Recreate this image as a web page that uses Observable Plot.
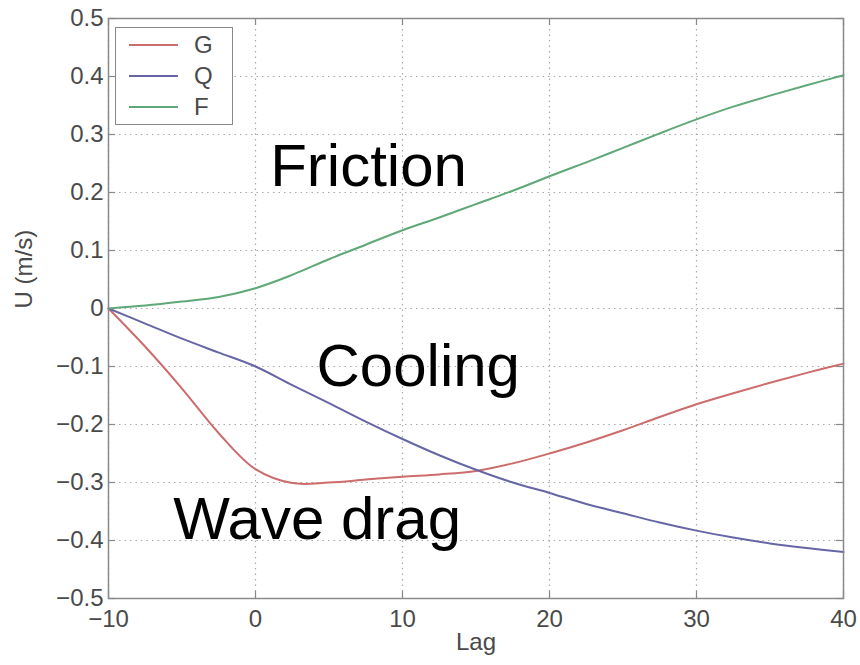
<!DOCTYPE html>
<html>
<head>
<meta charset="utf-8">
<script src="https://cdn.jsdelivr.net/npm/d3@7"></script>
<script src="https://cdn.jsdelivr.net/npm/@observablehq/plot@0.6"></script>
<style>
  body { margin: 0; background: #fff; }
  #wrap { position: relative; width: 860px; height: 665px; font-family: "Liberation Sans", Arial, sans-serif; }
  #legend { position: absolute; left: 115px; top: 27px; width: 118px; height: 98px; border: 1.5px solid #888; background: #fff; box-sizing: border-box; }
  #legend .row { position: absolute; left: 0; height: 24px; width: 100%; }
  #legend .sw { position: absolute; left: 13px; top: 11px; width: 49px; height: 2px; }
  #legend .lb { position: absolute; left: 78px; top: 0px; font-size: 24px; color: #4a4a4a; line-height: 24px; }
</style>
</head>
<body>
<div id="wrap"></div>
<script>
// ---- data ----
const lag = [-10, -7.5, -5, -2.5, 0, 2.5, 5, 7.5, 10, 12.5, 15, 17.5, 20, 22.5, 25, 27.5, 30, 32.5, 35, 37.5, 40];
const G = [0, -0.066, -0.138, -0.215, -0.277, -0.301, -0.300, -0.295, -0.290, -0.286, -0.280, -0.267, -0.250, -0.231, -0.210, -0.187, -0.165, -0.146, -0.128, -0.111, -0.095];
const Q = [0, -0.026, -0.052, -0.076, -0.100, -0.132, -0.163, -0.195, -0.225, -0.253, -0.278, -0.300, -0.318, -0.337, -0.353, -0.369, -0.383, -0.395, -0.405, -0.413, -0.420];
const F = [0, 0.005, 0.012, 0.020, 0.035, 0.058, 0.085, 0.110, 0.135, 0.157, 0.180, 0.203, 0.228, 0.252, 0.277, 0.302, 0.326, 0.348, 0.367, 0.385, 0.402];
const seriesNames = ["G", "Q", "F"];
const seriesColors = ["#cc6c6c", "#6666a6", "#5fa878"];
const xTicks = [-10, 0, 10, 20, 30, 40];
const yTicks = [-0.5, -0.4, -0.3, -0.2, -0.1, 0, 0.1, 0.2, 0.3, 0.4, 0.5];
const annotations = [
  {text: "Friction", x: 1.0, y: 0.212},
  {text: "Cooling", x: 4.15, y: -0.133},
  {text: "Wave drag", x: -5.6, y: -0.397}
];
const xLabel = "Lag";
const yLabel = "U (m/s)";

// ---- build table ----
const seriesValues = {G, Q, F};
const rows = [];
seriesNames.forEach(s => lag.forEach((l, i) => rows.push({series: s, lag: l, value: seriesValues[s][i]})));

const fmtY = d => d === 0 ? "0" : d3.format(".1f")(d);
const fmtX = d => d3.format("d")(d);
const tickColor = "#888";
const labelColor = "#4a4a4a";

const chart = Plot.plot({
  width: 860,
  height: 665,
  marginLeft: 108,
  marginRight: 17,
  marginTop: 18,
  marginBottom: 67,
  style: {fontFamily: "'Liberation Sans', Arial, sans-serif", background: "#fff"},
  x: {domain: [-10, 40]},
  y: {domain: [-0.5, 0.5]},
  color: {domain: seriesNames, range: seriesColors},
  marks: [
    Plot.gridX(xTicks, {stroke: "#aaa", strokeOpacity: 1, strokeDasharray: "1.5,4", strokeWidth: 1.2}),
    Plot.gridY(yTicks, {stroke: "#aaa", strokeOpacity: 1, strokeDasharray: "1.5,4", strokeWidth: 1.2}),
    // inward ticks on all four sides
    Plot.tickX(xTicks, {x: d => d, stroke: tickColor, strokeWidth: 1.2, insetTop: 573}),
    Plot.tickX(xTicks, {x: d => d, stroke: tickColor, strokeWidth: 1.2, insetBottom: 573}),
    Plot.tickY(yTicks, {y: d => d, stroke: tickColor, strokeWidth: 1.2, insetRight: 728}),
    Plot.tickY(yTicks, {y: d => d, stroke: tickColor, strokeWidth: 1.2, insetLeft: 728}),
    Plot.axisX(xTicks, {tickSize: 0, tickPadding: 11, tickFormat: fmtX, fontSize: 24, fill: labelColor, label: null}),
    Plot.axisY(yTicks, {tickSize: 0, tickPadding: 5, tickFormat: fmtY, fontSize: 24, fill: labelColor, label: null}),
    Plot.line(rows, {x: "lag", y: "value", z: "series", stroke: "series", strokeWidth: 2, curve: "catmull-rom"}),
    Plot.text(annotations, {x: "x", y: "y", text: "text", textAnchor: "start", lineAnchor: "bottom", fontSize: 60, fill: "#000"}),
    Plot.frame({stroke: "#8a8a8a", strokeWidth: 1.5}),
    Plot.text([xLabel], {frameAnchor: "bottom", dy: 51, fontSize: 24, fill: labelColor}),
    Plot.text([yLabel], {frameAnchor: "left", dx: -84, rotate: -90, fontSize: 24, fill: labelColor})
  ]
});

const wrap = document.getElementById("wrap");
wrap.appendChild(chart);

// legend
const legend = document.createElement("div");
legend.id = "legend";
const rowTops = [5, 36, 67];
seriesNames.forEach((s, i) => {
  const r = document.createElement("div");
  r.className = "row";
  r.style.top = rowTops[i] + "px";
  const sw = document.createElement("div");
  sw.className = "sw";
  sw.style.backgroundColor = seriesColors[i];
  const lb = document.createElement("div");
  lb.className = "lb";
  lb.textContent = s;
  r.appendChild(sw); r.appendChild(lb);
  legend.appendChild(r);
});
wrap.appendChild(legend);
</script>
</body>
</html>
